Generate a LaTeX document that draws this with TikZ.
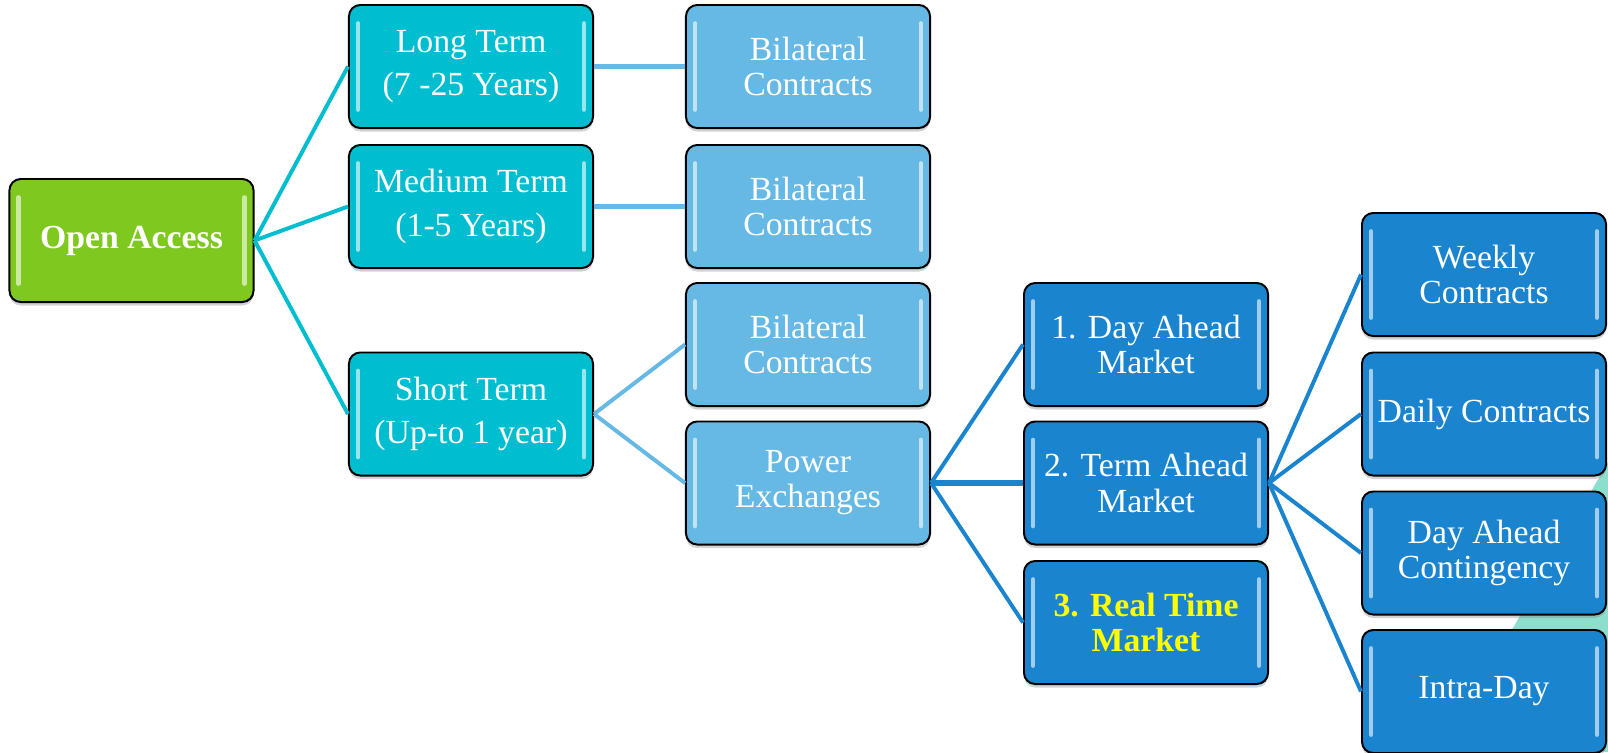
\documentclass[tikz,border=0pt]{standalone}
\usepackage{fontspec}
\setmainfont{Liberation Serif}
\usepackage{tikz}
\usetikzlibrary{positioning,shadows}

\definecolor{accessgreen}{RGB}{126,200,32}
\definecolor{termteal}{RGB}{0,190,208}
\definecolor{contractblue}{RGB}{102,185,228}
\definecolor{marketblue}{RGB}{26,132,207}
\definecolor{mintback}{RGB}{140,222,205}
\definecolor{realyellow}{RGB}{255,255,0}

\begin{document}
\begin{tikzpicture}[
  x=0.025cm, y=-0.025cm,
  every node/.style={align=center, text=white, font=\fontsize{24}{25}\selectfont},
  box/.style={rectangle, draw=black, line width=1.4pt, rounded corners=8pt,
    minimum width=6.1cm, minimum height=3.075cm, inner sep=2pt,
    drop shadow={shadow xshift=0pt, shadow yshift=-2.5pt, opacity=0.35},
    path picture={
      \draw[white, opacity=0.6, line width=3pt, line cap=round]
        ([xshift=6.5pt, yshift=-13pt]path picture bounding box.north west) --
        ([xshift=6.5pt, yshift=13pt]path picture bounding box.south west);
      \draw[white, opacity=0.6, line width=3pt, line cap=round]
        ([xshift=-6.5pt, yshift=-13pt]path picture bounding box.north east) --
        ([xshift=-6.5pt, yshift=13pt]path picture bounding box.south east);
    }},
  rootbox/.style={box, fill=accessgreen, font=\fontsize{24}{25}\selectfont\bfseries},
  termbox/.style={box, fill=termteal, font=\fontsize{24}{31}\selectfont},
  contractbox/.style={box, fill=contractblue},
  marketbox/.style={box, fill=marketblue},
  link/.style={line width=2.8pt},
  flatlink/.style={line width=4.2pt}
]
\useasboundingbox (0,0) rectangle (1608,752);

% background corner shape
\fill[mintback] (1608,462) -- (1442,752) -- (1608,752) -- cycle;

% Root
\node[rootbox] (open) at (131.5,240.5) {Open Access};

% Terms
\node[termbox] (long) at (471,66.5) {Long Term\\(7 -25 Years)};
\node[termbox] (medium) at (471,206.5) {Medium Term\\(1-5 Years)};
\node[termbox] (short) at (471,414) {Short Term\\(Up-to 1 year)};

% Contracts
\node[contractbox] (bilong) at (808,66.5) {Bilateral\\Contracts};
\node[contractbox] (bimedium) at (808,206.5) {Bilateral\\Contracts};
\node[contractbox] (bishort) at (808,344.5) {Bilateral\\Contracts};
\node[contractbox] (power) at (808,483) {Power\\Exchanges};

% Markets
\node[marketbox] (dayahead) at (1146,344.5) {1. Day Ahead\\Market};
\node[marketbox] (termahead) at (1146,483) {2. Term Ahead\\Market};
\node[marketbox, text=realyellow, font=\fontsize{24}{25}\selectfont\bfseries] (realtime) at (1146,622.5) {3. Real Time\\Market};

% Term ahead contracts
\node[marketbox] (weekly) at (1484,274.5) {Weekly\\Contracts};
\node[marketbox] (daily) at (1484,414) {Daily Contracts};
\node[marketbox] (contingency) at (1484,553) {Day Ahead\\Contingency};
\node[marketbox] (intraday) at (1484,691.5) {Intra-Day};

% Links
\foreach \t in {long,medium,short}
  \draw[link, termteal] (open.east) -- (\t.west);
\draw[flatlink, contractblue] (long.east) -- (bilong.west);
\draw[flatlink, contractblue] (medium.east) -- (bimedium.west);
\draw[link, contractblue] (short.east) -- (bishort.west);
\draw[link, contractblue] (short.east) -- (power.west);
\draw[link, marketblue] (power.east) -- (dayahead.west);
\draw[flatlink, marketblue] (power.east) -- (termahead.west);
\draw[link, marketblue] (power.east) -- (realtime.west);
\foreach \c in {weekly,daily,contingency,intraday}
  \draw[link, marketblue] (termahead.east) -- (\c.west);

\end{tikzpicture}
\end{document}
